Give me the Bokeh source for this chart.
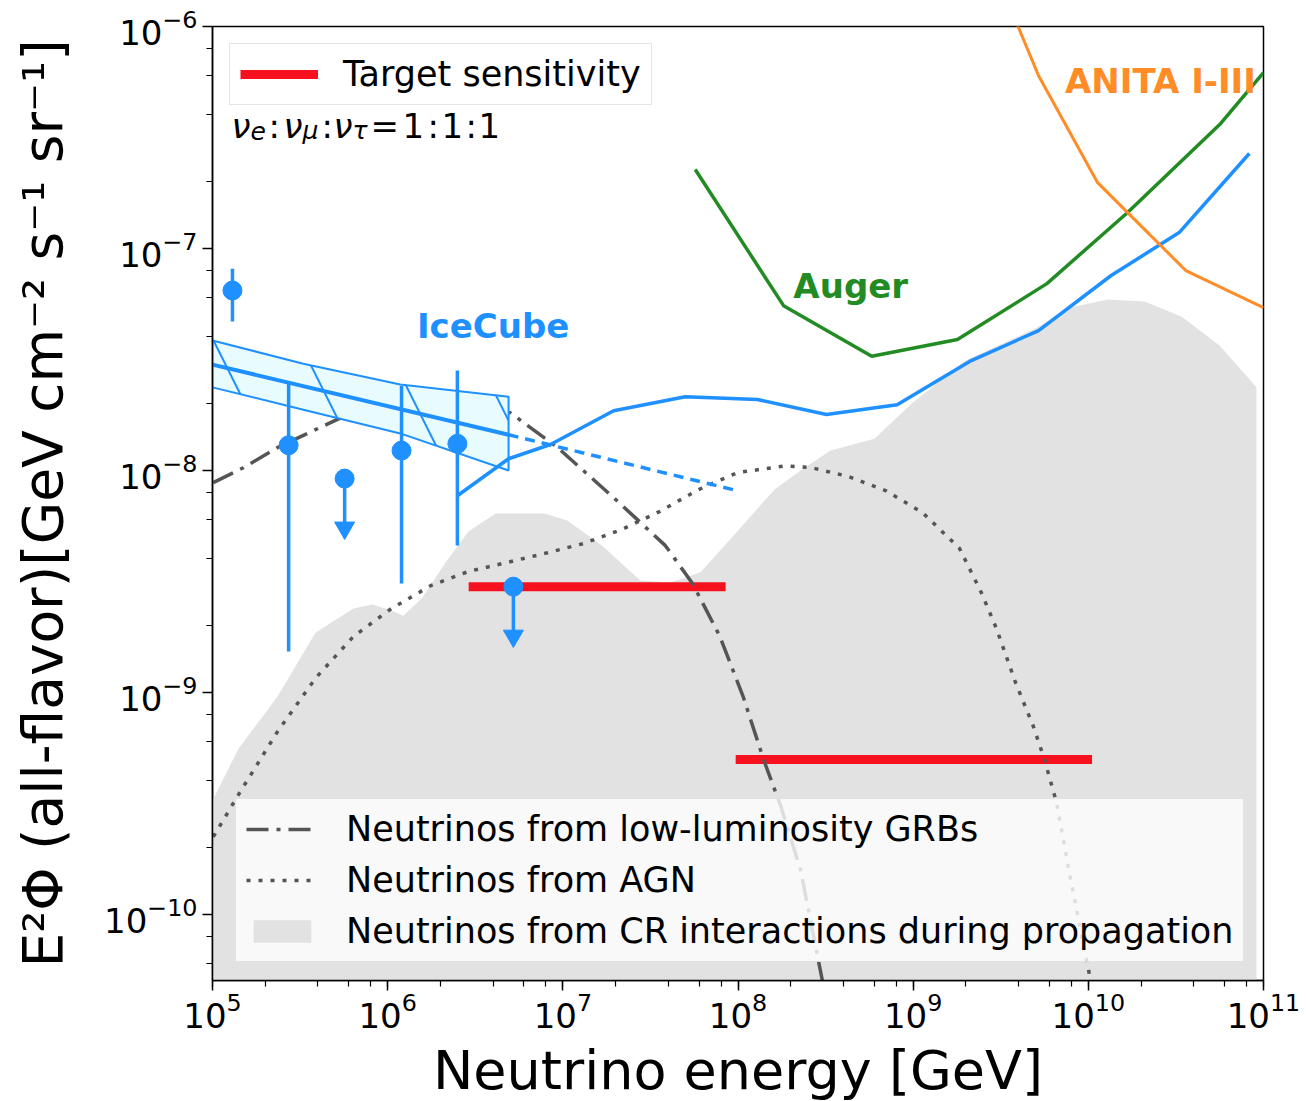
from bokeh.plotting import figure
from bokeh.models import Label, Legend, LegendItem, LogTicker
from bokeh.embed import file_html
from bokeh.resources import INLINE

# ---------------- data ----------------
# Neutrinos from CR interactions during propagation (upper boundary of grey area)
cr_E = [1.0e5, 1.41e5, 2.35e5, 3.87e5, 6.38e5, 8.18e5, 1.05e6, 1.23e6, 1.58e6, 2.14e6,
        2.89e6, 4.13e6, 7.85e6, 1.06e7, 1.68e7, 2.77e7, 4.12e7, 6.11e7, 9.79e7, 1.61e8,
        2.28e8, 3.37e8, 6.01e8, 9.77e8, 1.99e9, 4.86e9, 7.91e9, 1.29e10, 2.09e10, 3.4e10,
        5.61e10, 9.12e10]
cr_F = [3.27e-10, 5.6e-10, 9.6e-10, 1.86e-9, 2.39e-9, 2.49e-9, 2.34e-9, 2.22e-9, 2.68e-9, 3.85e-9,
        5.31e-9, 6.4e-9, 6.4e-9, 5.96e-9, 4.59e-9, 3.2e-9, 3.13e-9, 3.48e-9, 5.26e-9, 8.2e-9,
        1.0e-8, 1.23e-8, 1.39e-8, 2.0e-8, 3.13e-8, 4.32e-8, 5.42e-8, 5.89e-8, 5.77e-8, 4.94e-8,
        3.66e-8, 2.37e-8]
cr_floor = 1e-12

# Neutrinos from AGN
agn_E = [1.01e5, 1.41e5, 2.35e5, 3.87e5, 6.38e5, 1.05e6, 1.76e6, 2.89e6, 4.76e6, 7.85e6,
         1.31e7, 2.16e7, 3.56e7, 5.94e7, 9.93e7, 1.87e8, 2.63e8, 4.28e8, 6.95e8, 1.13e9,
         1.84e9, 2.45e9, 2.99e9, 3.84e9, 4.86e9, 5.62e9, 6.58e9, 7.91e9, 1.02e10, 1.07e10]
agn_F = [2.24e-10, 3.48e-10, 6.67e-10, 1.16e-9, 1.79e-9, 2.39e-9, 3.03e-9, 3.51e-9, 3.85e-9, 4.23e-9,
         4.69e-9, 5.42e-9, 6.53e-9, 8.2e-9, 9.79e-9, 1.05e-8, 1.03e-8, 9.4e-9, 8.13e-9, 6.47e-9,
         4.46e-9, 2.82e-9, 1.94e-9, 1.11e-9, 7.03e-10, 4.99e-10, 3.2e-10, 1.45e-10, 5.26e-11, 3.0e-11]

# Neutrinos from low-luminosity GRBs
grb_E = [1.01e5, 1.5e5, 2.35e5, 5.24e5, 1.58e6, 5.02e6, 9.33e6, 1.95e7, 3.85e7, 5.5e7,
         7.83e7, 1.07e8, 1.4e8, 1.75e8, 2.28e8, 3.03e8, 3.3e8]
grb_F = [8.83e-9, 1.03e-8, 1.27e-8, 1.71e-8, 2.04e-8, 1.82e-8, 1.27e-8, 7.55e-9, 4.59e-9, 3.1e-9,
         1.81e-9, 9.6e-10, 4.99e-10, 3.1e-10, 1.58e-10, 5.05e-11, 3.0e-11]

# Target sensitivity
target1_E = [2.9e6, 8.5e7]
target1_F = [3.0e-9, 3.0e-9]
target2_E = [9.7e7, 1.05e10]
target2_F = [5.0e-10, 5.0e-10]

# IceCube: fit band, best fit, extrapolation
band_E = [1.0e5, 3.3e5, 1.18e6, 4.9e6]
band_hi = [3.85e-8, 3.03e-8, 2.44e-8, 2.15e-8]
band_lo = [2.37e-8, 1.88e-8, 1.47e-8, 1.0e-8]
fit_E = [1.0e5, 4.9e6]
fit_F = [3.0e-8, 1.45e-8]
fit_ext_E = [4.9e6, 1.0e8]
fit_ext_F = [1.45e-8, 8.1e-9]

# IceCube data points
hese_E = [1.3e5, 2.72e5, 1.2e6, 2.5e6]
hese_F = [6.47e-8, 1.30e-8, 1.23e-8, 1.32e-8]
hese_lo = [4.69e-8, 1.53e-9, 3.1e-9, 4.6e-9]
hese_hi = [8.1e-8, 2.49e-8, 2.41e-8, 2.82e-8]
ul_E = [5.68e5, 5.22e6]
ul_F = [9.2e-9, 3.0e-9]

# IceCube EHE limit
ehe_E = [2.5e6, 4.9e6, 8.5e6, 1.95e7, 5.0e7, 1.29e8, 3.2e8, 8.1e8, 2.1e9, 5.2e9, 1.35e10, 3.3e10, 8.3e10]
ehe_F = [7.7e-9, 1.13e-8, 1.31e-8, 1.86e-8, 2.15e-8, 2.09e-8, 1.79e-8, 1.98e-8, 3.1e-8, 4.27e-8,
         7.56e-8, 1.18e-7, 2.68e-7]

# Auger
auger_E = [5.7e7, 1.82e8, 5.8e8, 1.79e9, 5.8e9, 1.67e10, 5.7e10, 1.0e11]
auger_F = [2.27e-7, 5.53e-8, 3.27e-8, 3.89e-8, 6.95e-8, 1.45e-7, 3.66e-7, 6.2e-7]

# ANITA I-III
anita_E = [3.15e9, 5.2e9, 1.13e10, 3.6e10, 1.0e11]
anita_F = [1.55e-6, 6.0e-7, 1.98e-7, 7.96e-8, 5.42e-8]

# ---------------- style ----------------
FONT = "DejaVu Sans"
BLUE = "#1E90FF"
GREEN = "#238B23"
ORANGE = "#FF8C26"
RED = "#F7101E"
GREY_FILL = "#E2E2E2"
DARK = "#555555"
ul_arrow = 0.6

p = figure(x_axis_type="log", y_axis_type="log",
           x_range=(1e5, 1e11), y_range=(5.05e-11, 1e-6),
           frame_width=1051, frame_height=954,
           min_border_left=212, min_border_right=40, min_border_top=26, min_border_bottom=119,
           output_backend="svg", toolbar_location=None,
           background_fill_color="white", border_fill_color="white")
p.xgrid.visible = False
p.ygrid.visible = False
p.outline_line_color = "black"
p.outline_line_width = 1.5
p.outline_line_alpha = 1.0

p.xaxis.ticker = LogTicker(desired_num_ticks=8)
p.yaxis.ticker = LogTicker(desired_num_ticks=6)
for ax in (p.xaxis, p.yaxis):
    ax.axis_line_color = "black"
    ax.axis_line_width = 1.5
    ax.major_tick_in = 0
    ax.major_tick_out = 10
    ax.minor_tick_in = 0
    ax.minor_tick_out = 6
    ax.major_tick_line_width = 1.5
    ax.minor_tick_line_width = 1.2
    ax.major_tick_line_color = "black"
    ax.minor_tick_line_color = "black"
    ax.major_label_text_font = FONT
    ax.major_label_text_font_size = "34px"
    ax.major_label_text_color = "black"
    ax.axis_label_text_font = FONT
    ax.axis_label_text_font_style = "normal"
    ax.axis_label_text_color = "black"

p.xaxis.axis_label = "Neutrino energy [GeV]"
p.yaxis.axis_label = "E\u00b2\u03a6 (all-flavor)[GeV cm\u207b\u00b2 s\u207b\u00b9 sr\u207b\u00b9]"
p.xaxis.axis_label_text_font_size = "54px"
p.yaxis.axis_label_text_font_size = "55px"
p.xaxis.major_label_standoff = 1
p.xaxis.axis_label_standoff = 8
p.yaxis.axis_label_standoff = 26

# grey CR area
cr_r = p.patch(cr_E + [cr_E[-1], cr_E[0]], cr_F + [cr_floor, cr_floor],
               fill_color=GREY_FILL, line_color=None)

# target sensitivity
t1 = p.line(target1_E, target1_F, line_color=RED, line_width=9, line_cap="butt")
p.line(target2_E, target2_F, line_color=RED, line_width=9, line_cap="butt")

# AGN & GRB
agn_r = p.line(agn_E, agn_F, line_color=DARK, line_width=3.5, line_dash="4 8")
grb_r = p.line(grb_E, grb_F, line_color=DARK, line_width=3.5, line_dash="22 8 4 8")

# IceCube band
p.patch(band_E + band_E[::-1], band_hi + band_lo[::-1],
        fill_color="#E8FBFD", line_color=BLUE, line_width=2,
        hatch_pattern="left_diagonal_line", hatch_color=BLUE, hatch_scale=170, hatch_weight=2)
p.line(fit_E, fit_F, line_color=BLUE, line_width=4)
p.line(fit_ext_E, fit_ext_F, line_color=BLUE, line_width=3.5, line_dash="10 7")

# IceCube points
p.segment(x0=hese_E, y0=hese_lo, x1=hese_E, y1=hese_hi, line_color=BLUE, line_width=3.5)
p.scatter(hese_E, hese_F, size=19, color=BLUE)
ul_tip = [f * ul_arrow for f in ul_F]
p.segment(x0=ul_E, y0=ul_F, x1=ul_E, y1=ul_tip, line_color=BLUE, line_width=3.5)
p.scatter(ul_E, ul_tip, marker="inverted_triangle", size=20, color=BLUE)
p.scatter(ul_E, ul_F, size=19, color=BLUE)

# EHE, Auger, ANITA
p.line(ehe_E, ehe_F, line_color=BLUE, line_width=3.5)
p.line(auger_E, auger_F, line_color=GREEN, line_width=3.5)
p.line(anita_E, anita_F, line_color=ORANGE, line_width=3)

# text labels
def add_label(x, y, text, color, size="34px", style="bold"):
    p.add_layout(Label(x=x, y=y, text=text, text_color=color, text_font=FONT,
                       text_font_size=size, text_font_style=style,
                       text_align="center", text_baseline="middle"))

add_label(4.0e6, 4.5e-8, "IceCube", BLUE)
add_label(4.4e8, 6.8e-8, "Auger", GREEN)
add_label(2.58e10, 5.7e-7, "ANITA I-III", ORANGE)

# flavour ratio text, pieces placed relative to top-left corner of frame
pieces = [("\u03bd", 19, 99, "34px", "italic"), ("e", 38, 104, "25px", "italic"),
          (":", 56, 99, "34px", "normal"),
          ("\u03bd", 71, 99, "34px", "italic"), ("\u03bc", 90, 104, "25px", "italic"),
          (":", 109, 99, "34px", "normal"),
          ("\u03bd", 121, 99, "34px", "italic"), ("\u03c4", 140, 104, "25px", "italic"),
          ("=", 158, 99, "34px", "normal"), ("1", 190, 99, "34px", "normal"),
          (":", 215, 99, "34px", "normal"), ("1", 229, 99, "34px", "normal"),
          (":", 253, 99, "34px", "normal"), ("1", 266, 99, "34px", "normal")]
for txt, dx, dy, sz, st in pieces:
    p.add_layout(Label(x=1e5, y=1e-6, x_offset=dx, y_offset=-dy, text=txt,
                       text_font=FONT, text_font_size=sz, text_font_style=st,
                       text_color="black", text_align="left", text_baseline="alphabetic"))

# legends
leg1 = Legend(items=[LegendItem(label="Target sensitivity", renderers=[t1])],
              location="top_left", margin=17, padding=10, spacing=0,
              glyph_width=78, glyph_height=30, label_standoff=25, label_height=40,
              label_text_font=FONT, label_text_font_size="35px", label_text_color="black",
              background_fill_color="white", background_fill_alpha=0.8,
              border_line_color="#CCCCCC", border_line_width=1.5)
leg2 = Legend(items=[LegendItem(label="Neutrinos from low-luminosity GRBs", renderers=[grb_r]),
                     LegendItem(label="Neutrinos from AGN", renderers=[agn_r]),
                     LegendItem(label="Neutrinos from CR interactions during propagation", renderers=[cr_r])],
              location=(23, 18), padding=10, spacing=11,
              glyph_width=72, glyph_height=28, label_standoff=28, label_height=40,
              label_text_font=FONT, label_text_font_size="35px", label_text_color="black",
              background_fill_color="white", background_fill_alpha=0.8,
              border_line_color="#CCCCCC", border_line_width=1.5)
p.add_layout(leg1)
p.add_layout(leg2)

open("out.html", "w").write(file_html(p, INLINE))
